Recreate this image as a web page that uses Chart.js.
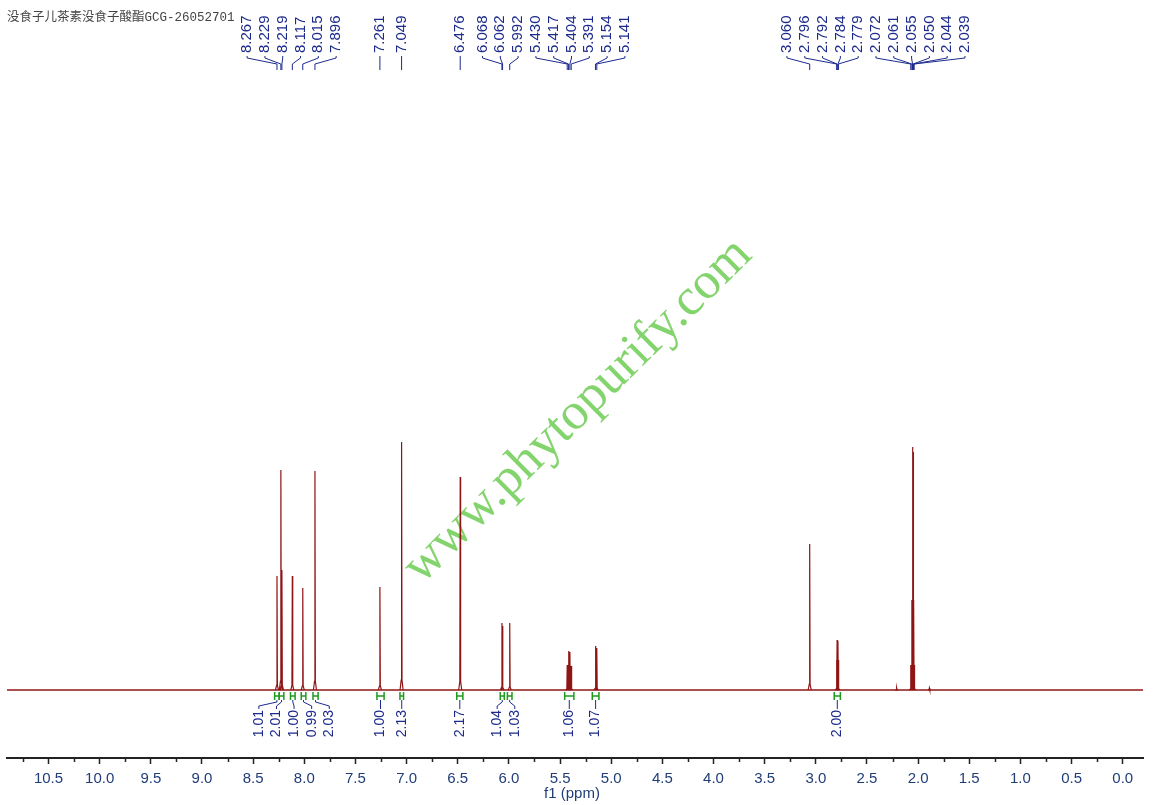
<!DOCTYPE html>
<html>
<head>
<meta charset="utf-8">
<script src="https://cdn.jsdelivr.net/npm/chart.js@4/dist/chart.umd.min.js"></script>
<style>
  html, body { margin: 0; padding: 0; background: #fff; }
  canvas { display: block; }
</style>
</head>
<body>
<canvas id="nmr" width="1154" height="805"></canvas>
<script>
const title = '没食子儿茶素没食子酸酯GCG-26052701';

// peak positions (ppm) and heights
const peakPpm = [8.267, 8.229, 8.219, 8.117, 8.015, 7.896, 7.261, 7.049, 6.476,
  6.068, 6.062, 5.992, 5.430, 5.417, 5.404, 5.391, 5.154, 5.141,
  3.060, 2.796, 2.792, 2.784, 2.779, 2.072, 2.061, 2.055, 2.050, 2.044, 2.039];
const peakHeight = [114, 220, 120, 114, 102, 219, 103, 248, 213,
  67, 64, 67, 25, 39, 38, 24, 44, 42,
  146, 30, 50, 49, 30, 25, 90, 243, 238, 90, 25];

// tiny baseline bumps (not labelled)
const bumpPpm = [2.21, 1.89];
const bumpHeight = [2, 2];

// integrals
const intFrom = [8.29, 8.245, 8.135, 8.03, 7.915, 7.29, 7.065, 6.51, 6.085, 6.015, 5.455, 5.185, 2.82];
const intTo = [8.245, 8.20, 8.09, 7.985, 7.865, 7.22, 7.03, 6.45, 6.045, 5.97, 5.365, 5.12, 2.76];
const intValue = ['1.01', '2.01', '1.00', '0.99', '2.03', '1.00', '2.13', '2.17', '1.04', '1.03', '1.06', '1.07', '2.00'];

const tickLabels = ['10.5', '10.0', '9.5', '9.0', '8.5', '8.0', '7.5', '7.0', '6.5', '6.0', '5.5',
  '5.0', '4.5', '4.0', '3.5', '3.0', '2.5', '2.0', '1.5', '1.0', '0.5', '0.0'];

const ppmMin = -0.198, ppmMax = 10.906;

const majorVals = tickLabels.map(Number);
const allTicks = [];
majorVals.forEach(v => { allTicks.push(v); allTicks.push(v + 0.25); });
const isMajor = v => majorVals.some(m => Math.abs(m - v) < 1e-6);

// build spectrum as stick peaks separated by gaps
function stick(p, h) {
  return [
    { x: p + 0.015, y: 0 }, { x: p + 0.004, y: h * 0.04 }, { x: p, y: h },
    { x: p - 0.004, y: h * 0.04 }, { x: p - 0.015, y: 0 }, { x: p - 0.015, y: null }
  ];
}
let peakPts = [];
peakPpm.forEach((p, i) => { peakPts = peakPts.concat(stick(p, peakHeight[i])); });
bumpPpm.forEach((p, i) => { peakPts = peakPts.concat(stick(p, bumpHeight[i])); });

// spread crowded labels into evenly spaced clusters
function spread(xs, gap) {
  let cl = xs.map((x, i) => ({ idx: [i], mean: x }));
  let merged = true;
  while (merged) {
    merged = false;
    for (let i = 0; i < cl.length - 1; i++) {
      const a = cl[i], b = cl[i + 1];
      const aEnd = a.mean + (a.idx.length - 1) * gap / 2;
      const bStart = b.mean - (b.idx.length - 1) * gap / 2;
      if (bStart - aEnd < gap) {
        const idx = a.idx.concat(b.idx);
        const mean = idx.reduce((s, k) => s + xs[k], 0) / idx.length;
        cl.splice(i, 2, { idx, mean });
        merged = true;
        break;
      }
    }
  }
  const out = [];
  cl.forEach(c => c.idx.forEach((k, j) => { out[k] = c.mean + (j - (c.idx.length - 1) / 2) * gap; }));
  return out;
}

const blue = '#1c2a8c';
const axisBlue = '#203d78';

const annotations = {
  id: 'annotations',
  beforeDatasetsDraw(chart) {
    const ctx = chart.ctx;
    ctx.save();
    ctx.translate(578, 411);
    ctx.rotate(-44.7 * Math.PI / 180);
    ctx.font = '52px "Liberation Serif", "Times New Roman", serif';
    ctx.fillStyle = 'rgba(110, 205, 85, 0.85)';
    ctx.textAlign = 'center';
    ctx.textBaseline = 'middle';
    ctx.fillText('www.phytopurify.com', 0, 0);
    ctx.restore();
  },
  afterDraw(chart) {
    const ctx = chart.ctx;
    const xs = chart.scales.x, ys = chart.scales.y;
    const base = ys.getPixelForValue(0);
    const axisY = chart.chartArea.bottom;
    ctx.save();

    // title
    ctx.font = '12.5px "Liberation Mono", "Noto Sans CJK SC", monospace';
    ctx.fillStyle = '#444';
    ctx.textAlign = 'left';
    ctx.textBaseline = 'middle';
    ctx.fillText(title, 7, 18);

    // minor ticks
    ctx.strokeStyle = '#222';
    ctx.lineWidth = 1.5;
    allTicks.filter(v => !isMajor(v) && v <= ppmMax).forEach(v => {
      const x = Math.round(xs.getPixelForValue(v)) + 0.5;
      ctx.beginPath(); ctx.moveTo(x, axisY); ctx.lineTo(x, axisY + 4); ctx.stroke();
    });

    // axis title
    ctx.font = '15px "Liberation Sans", Arial, sans-serif';
    ctx.fillStyle = axisBlue;
    ctx.textAlign = 'center';
    ctx.fillText('f1 (ppm)', 572, 794);

    // peak labels
    const px = peakPpm.map(p => xs.getPixelForValue(p));
    const lx = spread(px, 17.8);
    ctx.strokeStyle = blue;
    ctx.lineWidth = 1;
    ctx.fillStyle = blue;
    ctx.font = '15px "Liberation Sans", Arial, sans-serif';
    peakPpm.forEach((p, i) => {
      ctx.beginPath();
      ctx.moveTo(lx[i], 56);
      ctx.lineTo(lx[i], 58);
      ctx.lineTo(px[i], 64);
      ctx.lineTo(px[i], 70);
      ctx.stroke();
      ctx.save();
      ctx.translate(lx[i], 53);
      ctx.rotate(-Math.PI / 2);
      ctx.textAlign = 'left';
      ctx.textBaseline = 'middle';
      ctx.fillText(p.toFixed(3), 0, 0);
      ctx.restore();
    });

    // integrals
    const ic = intFrom.map((f, i) => (xs.getPixelForValue(f) + xs.getPixelForValue(intTo[i])) / 2);
    const il = spread(ic, 17.6);
    ctx.font = '14px "Liberation Sans", Arial, sans-serif';
    intFrom.forEach((f, i) => {
      const a = xs.getPixelForValue(f), b = xs.getPixelForValue(intTo[i]);
      ctx.strokeStyle = '#1f9a1f';
      ctx.lineWidth = 1.5;
      ctx.beginPath();
      ctx.moveTo(a, base + 2); ctx.lineTo(a, base + 10);
      ctx.moveTo(b, base + 2); ctx.lineTo(b, base + 10);
      ctx.moveTo(a, base + 6); ctx.lineTo(b, base + 6);
      ctx.stroke();
      ctx.strokeStyle = blue;
      ctx.lineWidth = 1;
      ctx.beginPath();
      ctx.moveTo(ic[i], base + 10);
      ctx.lineTo(ic[i], base + 12);
      ctx.lineTo(il[i], base + 16);
      ctx.lineTo(il[i], base + 19);
      ctx.stroke();
      ctx.save();
      ctx.translate(il[i], base + 20);
      ctx.rotate(-Math.PI / 2);
      ctx.fillStyle = blue;
      ctx.textAlign = 'right';
      ctx.textBaseline = 'middle';
      ctx.fillText(intValue[i], 0, 0);
      ctx.restore();
    });
    ctx.restore();
  }
};

new Chart(document.getElementById('nmr'), {
  type: 'line',
  data: {
    datasets: [
      { data: [{ x: ppmMax, y: 0 }, { x: ppmMin, y: 0 }], borderColor: '#8f1515', borderWidth: 1.4, pointRadius: 0 },
      { data: peakPts, borderColor: '#8f1515', borderWidth: 1.2, pointRadius: 0, spanGaps: false }
    ]
  },
  options: {
    responsive: false,
    animation: false,
    devicePixelRatio: 1,
    layout: { padding: { left: 7, right: 11, top: 80, bottom: 0 } },
    plugins: { legend: { display: false }, tooltip: { enabled: false } },
    elements: { line: { tension: 0 } },
    scales: {
      x: {
        type: 'linear',
        reverse: true,
        min: ppmMin,
        max: ppmMax,
        afterBuildTicks: s => { s.ticks = allTicks.filter(v => v <= ppmMax).map(v => ({ value: v })); },
        afterFit: s => { s.height = 47; },
        ticks: {
          autoSkip: false,
          maxRotation: 0,
          padding: 6,
          color: axisBlue,
          font: { family: '"Liberation Sans", Arial, sans-serif', size: 15 },
          callback: v => { const k = majorVals.findIndex(m => Math.abs(m - v) < 1e-6); return k >= 0 ? tickLabels[k] : ''; }
        },
        grid: {
          drawOnChartArea: false,
          drawTicks: true,
          tickLength: 6,
          tickWidth: 1.5,
          tickColor: c => (c.tick && isMajor(c.tick.value)) ? '#222' : 'rgba(0,0,0,0)'
        },
        border: { display: true, color: '#222', width: 2 }
      },
      y: { display: false, min: -68, max: 610 }
    }
  },
  plugins: [annotations]
});
</script>
</body>
</html>
